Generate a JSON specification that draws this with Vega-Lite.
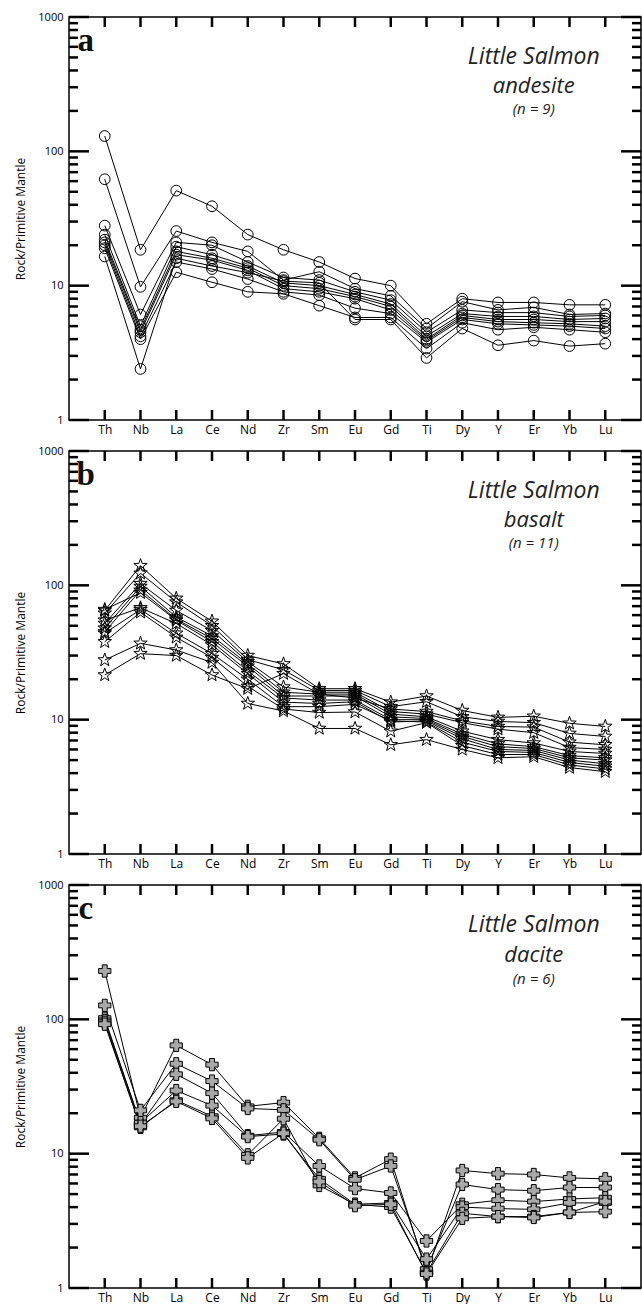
{
"$schema": "https://vega.github.io/schema/vega-lite/v6.json",
"padding": {"left": 14, "top": 10, "right": 2, "bottom": 0},
"spacing": 8,
"config": {"view": {"stroke": "black", "strokeWidth": 1.5}, "font": "Open Sans"},
"datasets": {
"els": [{"el":"Th"},{"el":"Nb"},{"el":"La"},{"el":"Ce"},{"el":"Nd"},{"el":"Zr"},{"el":"Sm"},{"el":"Eu"},{"el":"Gd"},{"el":"Ti"},{"el":"Dy"},{"el":"Y"},{"el":"Er"},{"el":"Yb"},{"el":"Lu"}],
"major": [{"v":1},{"v":10},{"v":100},{"v":1000}],
"minor": [{"v":2},{"v":3},{"v":4},{"v":5},{"v":6},{"v":7},{"v":8},{"v":9},{"v":20},{"v":30},{"v":40},{"v":50},{"v":60},{"v":70},{"v":80},{"v":90},{"v":200},{"v":300},{"v":400},{"v":500},{"v":600},{"v":700},{"v":800},{"v":900}],
"andesite": [
{"s":"A1","el":"Th","v":130},{"s":"A1","el":"Nb","v":18.5},{"s":"A1","el":"La","v":51},{"s":"A1","el":"Ce","v":39},{"s":"A1","el":"Nd","v":24},{"s":"A1","el":"Zr","v":18.5},{"s":"A1","el":"Sm","v":15},{"s":"A1","el":"Eu","v":11.3},{"s":"A1","el":"Gd","v":10},{"s":"A1","el":"Ti","v":5.2},{"s":"A1","el":"Dy","v":8},{"s":"A1","el":"Y","v":7.5},{"s":"A1","el":"Er","v":7.5},{"s":"A1","el":"Yb","v":7.2},{"s":"A1","el":"Lu","v":7.2},
{"s":"A2","el":"Th","v":62},{"s":"A2","el":"Nb","v":9.8},{"s":"A2","el":"La","v":25.5},{"s":"A2","el":"Ce","v":21},{"s":"A2","el":"Nd","v":18},{"s":"A2","el":"Zr","v":11},{"s":"A2","el":"Sm","v":12.7},{"s":"A2","el":"Eu","v":9.5},{"s":"A2","el":"Gd","v":8.4},{"s":"A2","el":"Ti","v":4.8},{"s":"A2","el":"Dy","v":7.6},{"s":"A2","el":"Y","v":6.6},{"s":"A2","el":"Er","v":6.9},{"s":"A2","el":"Yb","v":6.1},{"s":"A2","el":"Lu","v":6.2},
{"s":"A3","el":"Th","v":28},{"s":"A3","el":"Nb","v":6.1},{"s":"A3","el":"La","v":21},{"s":"A3","el":"Ce","v":20},{"s":"A3","el":"Nd","v":15},{"s":"A3","el":"Zr","v":11.5},{"s":"A3","el":"Sm","v":11},{"s":"A3","el":"Eu","v":9},{"s":"A3","el":"Gd","v":7.8},{"s":"A3","el":"Ti","v":4.5},{"s":"A3","el":"Dy","v":6.6},{"s":"A3","el":"Y","v":6.3},{"s":"A3","el":"Er","v":6.3},{"s":"A3","el":"Yb","v":5.9},{"s":"A3","el":"Lu","v":6},
{"s":"A4","el":"Th","v":24},{"s":"A4","el":"Nb","v":5},{"s":"A4","el":"La","v":19.5},{"s":"A4","el":"Ce","v":17},{"s":"A4","el":"Nd","v":14},{"s":"A4","el":"Zr","v":10.5},{"s":"A4","el":"Sm","v":10},{"s":"A4","el":"Eu","v":8.6},{"s":"A4","el":"Gd","v":7.3},{"s":"A4","el":"Ti","v":4.2},{"s":"A4","el":"Dy","v":6.2},{"s":"A4","el":"Y","v":5.9},{"s":"A4","el":"Er","v":5.9},{"s":"A4","el":"Yb","v":5.6},{"s":"A4","el":"Lu","v":5.7},
{"s":"A5","el":"Th","v":22},{"s":"A5","el":"Nb","v":4.7},{"s":"A5","el":"La","v":18},{"s":"A5","el":"Ce","v":16},{"s":"A5","el":"Nd","v":13.5},{"s":"A5","el":"Zr","v":10},{"s":"A5","el":"Sm","v":9.5},{"s":"A5","el":"Eu","v":8.3},{"s":"A5","el":"Gd","v":7},{"s":"A5","el":"Ti","v":4},{"s":"A5","el":"Dy","v":6},{"s":"A5","el":"Y","v":5.6},{"s":"A5","el":"Er","v":5.6},{"s":"A5","el":"Yb","v":5.4},{"s":"A5","el":"Lu","v":5.4},
{"s":"A6","el":"Th","v":21},{"s":"A6","el":"Nb","v":4.5},{"s":"A6","el":"La","v":17},{"s":"A6","el":"Ce","v":15.5},{"s":"A6","el":"Nd","v":13},{"s":"A6","el":"Zr","v":9.5},{"s":"A6","el":"Sm","v":9},{"s":"A6","el":"Eu","v":8},{"s":"A6","el":"Gd","v":6.6},{"s":"A6","el":"Ti","v":3.9},{"s":"A6","el":"Dy","v":5.8},{"s":"A6","el":"Y","v":5.4},{"s":"A6","el":"Er","v":5.3},{"s":"A6","el":"Yb","v":5.2},{"s":"A6","el":"Lu","v":5},
{"s":"A7","el":"Th","v":20},{"s":"A7","el":"Nb","v":4.2},{"s":"A7","el":"La","v":15},{"s":"A7","el":"Ce","v":13.3},{"s":"A7","el":"Nd","v":11.2},{"s":"A7","el":"Zr","v":9},{"s":"A7","el":"Sm","v":8.5},{"s":"A7","el":"Eu","v":6.8},{"s":"A7","el":"Gd","v":6.2},{"s":"A7","el":"Ti","v":3.8},{"s":"A7","el":"Dy","v":5.6},{"s":"A7","el":"Y","v":5.2},{"s":"A7","el":"Er","v":5.1},{"s":"A7","el":"Yb","v":5},{"s":"A7","el":"Lu","v":4.8},
{"s":"A8","el":"Th","v":19},{"s":"A8","el":"Nb","v":4},{"s":"A8","el":"La","v":12.6},{"s":"A8","el":"Ce","v":10.6},{"s":"A8","el":"Nd","v":9},{"s":"A8","el":"Zr","v":8.7},{"s":"A8","el":"Sm","v":7.1},{"s":"A8","el":"Eu","v":5.8},{"s":"A8","el":"Gd","v":5.8},{"s":"A8","el":"Ti","v":3.4},{"s":"A8","el":"Dy","v":5.3},{"s":"A8","el":"Y","v":4.7},{"s":"A8","el":"Er","v":4.9},{"s":"A8","el":"Yb","v":4.7},{"s":"A8","el":"Lu","v":4.5},
{"s":"A9","el":"Th","v":16.5},{"s":"A9","el":"Nb","v":2.4},{"s":"A9","el":"La","v":16},{"s":"A9","el":"Ce","v":14},{"s":"A9","el":"Nd","v":12.5},{"s":"A9","el":"Zr","v":10.8},{"s":"A9","el":"Sm","v":10.5},{"s":"A9","el":"Eu","v":5.6},{"s":"A9","el":"Gd","v":5.6},{"s":"A9","el":"Ti","v":2.9},{"s":"A9","el":"Dy","v":4.8},{"s":"A9","el":"Y","v":3.6},{"s":"A9","el":"Er","v":3.9},{"s":"A9","el":"Yb","v":3.55},{"s":"A9","el":"Lu","v":3.7}
],
"basalt": [
{"s":"B1","el":"Th","v":65},{"s":"B1","el":"Nb","v":140},{"s":"B1","el":"La","v":80},{"s":"B1","el":"Ce","v":54},{"s":"B1","el":"Nd","v":30},{"s":"B1","el":"Zr","v":26},{"s":"B1","el":"Sm","v":17},{"s":"B1","el":"Eu","v":17},{"s":"B1","el":"Gd","v":13.5},{"s":"B1","el":"Ti","v":15},{"s":"B1","el":"Dy","v":11.7},{"s":"B1","el":"Y","v":10.4},{"s":"B1","el":"Er","v":10.6},{"s":"B1","el":"Yb","v":9.4},{"s":"B1","el":"Lu","v":8.9},
{"s":"B2","el":"Th","v":62},{"s":"B2","el":"Nb","v":123},{"s":"B2","el":"La","v":75},{"s":"B2","el":"Ce","v":50},{"s":"B2","el":"Nd","v":28},{"s":"B2","el":"Zr","v":23.5},{"s":"B2","el":"Sm","v":16.5},{"s":"B2","el":"Eu","v":16.5},{"s":"B2","el":"Gd","v":12.5},{"s":"B2","el":"Ti","v":13.6},{"s":"B2","el":"Dy","v":10.5},{"s":"B2","el":"Y","v":9.7},{"s":"B2","el":"Er","v":9.5},{"s":"B2","el":"Yb","v":7.9},{"s":"B2","el":"Lu","v":7.5},
{"s":"B3","el":"Th","v":52},{"s":"B3","el":"Nb","v":103},{"s":"B3","el":"La","v":65},{"s":"B3","el":"Ce","v":46},{"s":"B3","el":"Nd","v":27},{"s":"B3","el":"Zr","v":17.5},{"s":"B3","el":"Sm","v":16},{"s":"B3","el":"Eu","v":16},{"s":"B3","el":"Gd","v":11.5},{"s":"B3","el":"Ti","v":11},{"s":"B3","el":"Dy","v":9.5},{"s":"B3","el":"Y","v":8.5},{"s":"B3","el":"Er","v":8},{"s":"B3","el":"Yb","v":6.2},{"s":"B3","el":"Lu","v":6},
{"s":"B4","el":"Th","v":48},{"s":"B4","el":"Nb","v":98},{"s":"B4","el":"La","v":58},{"s":"B4","el":"Ce","v":42},{"s":"B4","el":"Nd","v":26},{"s":"B4","el":"Zr","v":16},{"s":"B4","el":"Sm","v":15.5},{"s":"B4","el":"Eu","v":15.5},{"s":"B4","el":"Gd","v":11},{"s":"B4","el":"Ti","v":10.5},{"s":"B4","el":"Dy","v":8.2},{"s":"B4","el":"Y","v":7.1},{"s":"B4","el":"Er","v":6.7},{"s":"B4","el":"Yb","v":5.8},{"s":"B4","el":"Lu","v":5.6},
{"s":"B5","el":"Th","v":45},{"s":"B5","el":"Nb","v":92},{"s":"B5","el":"La","v":56},{"s":"B5","el":"Ce","v":40},{"s":"B5","el":"Nd","v":25},{"s":"B5","el":"Zr","v":15},{"s":"B5","el":"Sm","v":15},{"s":"B5","el":"Eu","v":15},{"s":"B5","el":"Gd","v":10.5},{"s":"B5","el":"Ti","v":10.2},{"s":"B5","el":"Dy","v":7.8},{"s":"B5","el":"Y","v":6.6},{"s":"B5","el":"Er","v":6.3},{"s":"B5","el":"Yb","v":5.4},{"s":"B5","el":"Lu","v":5.2},
{"s":"B6","el":"Th","v":66},{"s":"B6","el":"Nb","v":88},{"s":"B6","el":"La","v":55},{"s":"B6","el":"Ce","v":38},{"s":"B6","el":"Nd","v":23},{"s":"B6","el":"Zr","v":14.5},{"s":"B6","el":"Sm","v":14},{"s":"B6","el":"Eu","v":14},{"s":"B6","el":"Gd","v":10},{"s":"B6","el":"Ti","v":10},{"s":"B6","el":"Dy","v":7.5},{"s":"B6","el":"Y","v":6.3},{"s":"B6","el":"Er","v":6.1},{"s":"B6","el":"Yb","v":5.2},{"s":"B6","el":"Lu","v":5},
{"s":"B7","el":"Th","v":55},{"s":"B7","el":"Nb","v":68},{"s":"B7","el":"La","v":52},{"s":"B7","el":"Ce","v":36},{"s":"B7","el":"Nd","v":22},{"s":"B7","el":"Zr","v":13.5},{"s":"B7","el":"Sm","v":13.2},{"s":"B7","el":"Eu","v":13.6},{"s":"B7","el":"Gd","v":9.6},{"s":"B7","el":"Ti","v":9.8},{"s":"B7","el":"Dy","v":7.2},{"s":"B7","el":"Y","v":6},{"s":"B7","el":"Er","v":5.9},{"s":"B7","el":"Yb","v":5},{"s":"B7","el":"Lu","v":4.7},
{"s":"B8","el":"Th","v":44},{"s":"B8","el":"Nb","v":66},{"s":"B8","el":"La","v":44},{"s":"B8","el":"Ce","v":31},{"s":"B8","el":"Nd","v":20},{"s":"B8","el":"Zr","v":12.5},{"s":"B8","el":"Sm","v":12.5},{"s":"B8","el":"Eu","v":13},{"s":"B8","el":"Gd","v":9.8},{"s":"B8","el":"Ti","v":9.6},{"s":"B8","el":"Dy","v":6.8},{"s":"B8","el":"Y","v":5.8},{"s":"B8","el":"Er","v":5.7},{"s":"B8","el":"Yb","v":4.8},{"s":"B8","el":"Lu","v":4.5},
{"s":"B9","el":"Th","v":38},{"s":"B9","el":"Nb","v":63},{"s":"B9","el":"La","v":41},{"s":"B9","el":"Ce","v":29},{"s":"B9","el":"Nd","v":17.7},{"s":"B9","el":"Zr","v":12},{"s":"B9","el":"Sm","v":11.3},{"s":"B9","el":"Eu","v":11.4},{"s":"B9","el":"Gd","v":8.2},{"s":"B9","el":"Ti","v":9.5},{"s":"B9","el":"Dy","v":6.4},{"s":"B9","el":"Y","v":5.5},{"s":"B9","el":"Er","v":5.5},{"s":"B9","el":"Yb","v":4.6},{"s":"B9","el":"Lu","v":4.3},
{"s":"B10","el":"Th","v":27.8},{"s":"B10","el":"Nb","v":37},{"s":"B10","el":"La","v":33},{"s":"B10","el":"Ce","v":26.6},{"s":"B10","el":"Nd","v":13.2},{"s":"B10","el":"Zr","v":11.6},{"s":"B10","el":"Sm","v":8.6},{"s":"B10","el":"Eu","v":8.6},{"s":"B10","el":"Gd","v":6.5},{"s":"B10","el":"Ti","v":7.1},{"s":"B10","el":"Dy","v":6},{"s":"B10","el":"Y","v":5.2},{"s":"B10","el":"Er","v":5.3},{"s":"B10","el":"Yb","v":4.4},{"s":"B10","el":"Lu","v":4.1},
{"s":"B11","el":"Th","v":21.5},{"s":"B11","el":"Nb","v":31},{"s":"B11","el":"La","v":30},{"s":"B11","el":"Ce","v":21.5},{"s":"B11","el":"Nd","v":17},{"s":"B11","el":"Zr","v":22},{"s":"B11","el":"Sm","v":15.5},{"s":"B11","el":"Eu","v":14.5},{"s":"B11","el":"Gd","v":12},{"s":"B11","el":"Ti","v":11.5},{"s":"B11","el":"Dy","v":9.8},{"s":"B11","el":"Y","v":8.9},{"s":"B11","el":"Er","v":8.8},{"s":"B11","el":"Yb","v":6.8},{"s":"B11","el":"Lu","v":6.5}
],
"dacite": [
{"s":"C1","el":"Th","v":229},{"s":"C1","el":"Nb","v":18.5},{"s":"C1","el":"La","v":64},{"s":"C1","el":"Ce","v":46},{"s":"C1","el":"Nd","v":22.5},{"s":"C1","el":"Zr","v":24},{"s":"C1","el":"Sm","v":13},{"s":"C1","el":"Eu","v":6.6},{"s":"C1","el":"Gd","v":9.1},{"s":"C1","el":"Ti","v":1.3},{"s":"C1","el":"Dy","v":7.5},{"s":"C1","el":"Y","v":7.1},{"s":"C1","el":"Er","v":7},{"s":"C1","el":"Yb","v":6.6},{"s":"C1","el":"Lu","v":6.5},
{"s":"C2","el":"Th","v":127},{"s":"C2","el":"Nb","v":21},{"s":"C2","el":"La","v":46.7},{"s":"C2","el":"Ce","v":34.7},{"s":"C2","el":"Nd","v":21.7},{"s":"C2","el":"Zr","v":21.2},{"s":"C2","el":"Sm","v":12.7},{"s":"C2","el":"Eu","v":6.4},{"s":"C2","el":"Gd","v":8.1},{"s":"C2","el":"Ti","v":1.38},{"s":"C2","el":"Dy","v":5.9},{"s":"C2","el":"Y","v":5.4},{"s":"C2","el":"Er","v":5.3},{"s":"C2","el":"Yb","v":5.6},{"s":"C2","el":"Lu","v":5.6},
{"s":"C3","el":"Th","v":102},{"s":"C3","el":"Nb","v":16.5},{"s":"C3","el":"La","v":39},{"s":"C3","el":"Ce","v":28.2},{"s":"C3","el":"Nd","v":13.6},{"s":"C3","el":"Zr","v":14.5},{"s":"C3","el":"Sm","v":8.1},{"s":"C3","el":"Eu","v":5.5},{"s":"C3","el":"Gd","v":5.1},{"s":"C3","el":"Ti","v":2.24},{"s":"C3","el":"Dy","v":4.2},{"s":"C3","el":"Y","v":4.5},{"s":"C3","el":"Er","v":4.4},{"s":"C3","el":"Yb","v":4.6},{"s":"C3","el":"Lu","v":4.7},
{"s":"C4","el":"Th","v":98},{"s":"C4","el":"Nb","v":17},{"s":"C4","el":"La","v":29.5},{"s":"C4","el":"Ce","v":22.8},{"s":"C4","el":"Nd","v":13.4},{"s":"C4","el":"Zr","v":14},{"s":"C4","el":"Sm","v":6.5},{"s":"C4","el":"Eu","v":4.2},{"s":"C4","el":"Gd","v":4.3},{"s":"C4","el":"Ti","v":1.64},{"s":"C4","el":"Dy","v":4},{"s":"C4","el":"Y","v":3.9},{"s":"C4","el":"Er","v":3.85},{"s":"C4","el":"Yb","v":4.3},{"s":"C4","el":"Lu","v":4.3},
{"s":"C5","el":"Th","v":95},{"s":"C5","el":"Nb","v":15.7},{"s":"C5","el":"La","v":25},{"s":"C5","el":"Ce","v":19},{"s":"C5","el":"Nd","v":9.8},{"s":"C5","el":"Zr","v":18.2},{"s":"C5","el":"Sm","v":5.8},{"s":"C5","el":"Eu","v":4.2},{"s":"C5","el":"Gd","v":4},{"s":"C5","el":"Ti","v":1.3},{"s":"C5","el":"Dy","v":3.6},{"s":"C5","el":"Y","v":3.4},{"s":"C5","el":"Er","v":3.4},{"s":"C5","el":"Yb","v":3.65},{"s":"C5","el":"Lu","v":4.4},
{"s":"C6","el":"Th","v":92},{"s":"C6","el":"Nb","v":16},{"s":"C6","el":"La","v":24.5},{"s":"C6","el":"Ce","v":18.3},{"s":"C6","el":"Nd","v":9.3},{"s":"C6","el":"Zr","v":14.2},{"s":"C6","el":"Sm","v":6.2},{"s":"C6","el":"Eu","v":4.1},{"s":"C6","el":"Gd","v":4.2},{"s":"C6","el":"Ti","v":1.27},{"s":"C6","el":"Dy","v":3.3},{"s":"C6","el":"Y","v":3.4},{"s":"C6","el":"Er","v":3.35},{"s":"C6","el":"Yb","v":3.65},{"s":"C6","el":"Lu","v":3.7}
]
},
"vconcat": [
{
"width": 572, "height": 403,
"resolve": {"scale": {"x": "independent"}, "axis": {"x": "independent", "y": "independent"}},
"layer": [
{"data": {"name": "andesite"}, "mark": {"type": "line", "color": "black", "strokeWidth": 1},
 "encoding": {
  "x": {"field": "el", "type": "nominal", "sort": ["Th","Nb","La","Ce","Nd","Zr","Sm","Eu","Gd","Ti","Dy","Y","Er","Yb","Lu"], "scale": {"type": "point", "domain": ["Th","Nb","La","Ce","Nd","Zr","Sm","Eu","Gd","Ti","Dy","Y","Er","Yb","Lu"], "padding": 1},
   "axis": {"orient": "bottom", "title": null, "labelAngle": 0, "labelFontSize": 12, "labelColor": "black", "labelPadding": 4, "ticks": false, "domain": false, "grid": false}},
  "y": {"field": "v", "type": "quantitative", "scale": {"type": "log", "domain": [1, 1000], "nice": false},
   "axis": {"orient": "left", "title": "Rock/Primitive Mantle", "titleFontSize": 12, "titleFontWeight": "normal", "titleColor": "black", "titlePadding": 10, "values": [1,10,100,1000], "format": "d", "labelFontSize": 11, "labelColor": "black", "labelPadding": 6, "labelFlush": false, "labelOverlap": false, "ticks": false, "domain": false, "grid": false}},
  "detail": {"field": "s"}
 }},
{"data": {"name": "andesite"}, "mark": {"type": "point", "shape": "circle", "filled": false, "stroke": "black", "strokeWidth": 1, "size": 115, "opacity": 1},
 "encoding": {
  "x": {"field": "el", "type": "nominal", "scale": {"type": "point", "domain": ["Th","Nb","La","Ce","Nd","Zr","Sm","Eu","Gd","Ti","Dy","Y","Er","Yb","Lu"], "padding": 1}, "axis": null},
  "y": {"field": "v", "type": "quantitative", "scale": {"type": "log", "domain": [1, 1000], "nice": false}, "axis": null}
 }},
{"data": {"name": "els"}, "mark": {"type": "tick", "orient": "vertical", "size": 10, "thickness": 2.5, "yOffset": 5, "color": "black", "opacity": 1},
 "encoding": {"x": {"field": "el", "type": "nominal", "scale": {"type": "point", "domain": ["Th","Nb","La","Ce","Nd","Zr","Sm","Eu","Gd","Ti","Dy","Y","Er","Yb","Lu"], "padding": 1}, "axis": null}, "y": {"datum": 1000, "type": "quantitative", "axis": null}}},
{"data": {"name": "els"}, "mark": {"type": "tick", "orient": "vertical", "size": 10, "thickness": 2.5, "yOffset": -5, "color": "black", "opacity": 1},
 "encoding": {"x": {"field": "el", "type": "nominal", "scale": {"type": "point", "domain": ["Th","Nb","La","Ce","Nd","Zr","Sm","Eu","Gd","Ti","Dy","Y","Er","Yb","Lu"], "padding": 1}, "axis": null}, "y": {"datum": 1, "type": "quantitative", "axis": null}}},
{"data": {"name": "major"}, "mark": {"type": "tick", "orient": "horizontal", "size": 20, "thickness": 2.5, "xOffset": 10, "color": "black", "opacity": 1},
 "encoding": {"x": {"datum": 0, "type": "quantitative", "scale": {"domain": [0, 1]}, "axis": null}, "y": {"field": "v", "type": "quantitative", "axis": null}}},
{"data": {"name": "minor"}, "mark": {"type": "tick", "orient": "horizontal", "size": 9, "thickness": 2.5, "xOffset": 4.5, "color": "black", "opacity": 1},
 "encoding": {"x": {"datum": 0, "type": "quantitative", "scale": {"domain": [0, 1]}, "axis": null}, "y": {"field": "v", "type": "quantitative", "axis": null}}},
{"data": {"name": "major"}, "mark": {"type": "tick", "orient": "horizontal", "size": 20, "thickness": 2.5, "xOffset": -10, "color": "black", "opacity": 1},
 "encoding": {"x": {"datum": 1, "type": "quantitative", "scale": {"domain": [0, 1]}, "axis": null}, "y": {"field": "v", "type": "quantitative", "axis": null}}},
{"data": {"name": "minor"}, "mark": {"type": "tick", "orient": "horizontal", "size": 9, "thickness": 2.5, "xOffset": -4.5, "color": "black", "opacity": 1},
 "encoding": {"x": {"datum": 1, "type": "quantitative", "scale": {"domain": [0, 1]}, "axis": null}, "y": {"field": "v", "type": "quantitative", "axis": null}}},
{"data": {"values": [{"t": "a"}]}, "mark": {"type": "text", "font": "Liberation Serif", "fontWeight": "bold", "fontSize": 33, "align": "center", "baseline": "alphabetic", "dx": -19, "color": "#111"},
 "encoding": {"x": {"datum": "Th", "scale": {"type": "point", "domain": ["Th","Nb","La","Ce","Nd","Zr","Sm","Eu","Gd","Ti","Dy","Y","Er","Yb","Lu"], "padding": 1}, "axis": null}, "y": {"datum": 560, "type": "quantitative", "axis": null}, "text": {"field": "t"}}},
{"data": {"values": [{"t": "Little Salmon"}]}, "mark": {"type": "text", "fontStyle": "italic", "fontSize": 23, "align": "center", "baseline": "middle", "color": "#222"},
 "encoding": {"x": {"datum": "Er", "scale": {"type": "point", "domain": ["Th","Nb","La","Ce","Nd","Zr","Sm","Eu","Gd","Ti","Dy","Y","Er","Yb","Lu"], "padding": 1}, "axis": null}, "y": {"datum": 503, "type": "quantitative", "axis": null}, "text": {"field": "t"}}},
{"data": {"values": [{"t": "andesite"}]}, "mark": {"type": "text", "fontStyle": "italic", "fontSize": 22, "align": "center", "baseline": "middle", "color": "#222"},
 "encoding": {"x": {"datum": "Er", "scale": {"type": "point", "domain": ["Th","Nb","La","Ce","Nd","Zr","Sm","Eu","Gd","Ti","Dy","Y","Er","Yb","Lu"], "padding": 1}, "axis": null}, "y": {"datum": 306, "type": "quantitative", "axis": null}, "text": {"field": "t"}}},
{"data": {"values": [{"t": "(n = 9)"}]}, "mark": {"type": "text", "fontStyle": "italic", "fontSize": 15, "align": "center", "baseline": "middle", "color": "#222"},
 "encoding": {"x": {"datum": "Er", "scale": {"type": "point", "domain": ["Th","Nb","La","Ce","Nd","Zr","Sm","Eu","Gd","Ti","Dy","Y","Er","Yb","Lu"], "padding": 1}, "axis": null}, "y": {"datum": 207, "type": "quantitative", "axis": null}, "text": {"field": "t"}}}
]
},
{
"width": 572, "height": 403,
"resolve": {"scale": {"x": "independent"}, "axis": {"x": "independent", "y": "independent"}},
"layer": [
{"data": {"name": "basalt"}, "mark": {"type": "line", "color": "black", "strokeWidth": 1},
 "encoding": {
  "x": {"field": "el", "type": "nominal", "sort": ["Th","Nb","La","Ce","Nd","Zr","Sm","Eu","Gd","Ti","Dy","Y","Er","Yb","Lu"], "scale": {"type": "point", "domain": ["Th","Nb","La","Ce","Nd","Zr","Sm","Eu","Gd","Ti","Dy","Y","Er","Yb","Lu"], "padding": 1},
   "axis": {"orient": "bottom", "title": null, "labelAngle": 0, "labelFontSize": 12, "labelColor": "black", "labelPadding": 4, "ticks": false, "domain": false, "grid": false}},
  "y": {"field": "v", "type": "quantitative", "scale": {"type": "log", "domain": [1, 1000], "nice": false},
   "axis": {"orient": "left", "title": "Rock/Primitive Mantle", "titleFontSize": 12, "titleFontWeight": "normal", "titleColor": "black", "titlePadding": 10, "values": [1,10,100,1000], "format": "d", "labelFontSize": 11, "labelColor": "black", "labelPadding": 6, "labelFlush": false, "labelOverlap": false, "ticks": false, "domain": false, "grid": false}},
  "detail": {"field": "s"}
 }},
{"data": {"name": "basalt"}, "mark": {"type": "point", "shape": "M0,-1L0.235,-0.324L0.951,-0.309L0.38,0.124L0.588,0.809L0,0.4L-0.588,0.809L-0.38,0.124L-0.951,-0.309L-0.235,-0.324Z", "filled": false, "stroke": "black", "strokeWidth": 1, "size": 200, "opacity": 1},
 "encoding": {
  "x": {"field": "el", "type": "nominal", "scale": {"type": "point", "domain": ["Th","Nb","La","Ce","Nd","Zr","Sm","Eu","Gd","Ti","Dy","Y","Er","Yb","Lu"], "padding": 1}, "axis": null},
  "y": {"field": "v", "type": "quantitative", "scale": {"type": "log", "domain": [1, 1000], "nice": false}, "axis": null}
 }},
{"data": {"name": "els"}, "mark": {"type": "tick", "orient": "vertical", "size": 10, "thickness": 2.5, "yOffset": 5, "color": "black", "opacity": 1},
 "encoding": {"x": {"field": "el", "type": "nominal", "scale": {"type": "point", "domain": ["Th","Nb","La","Ce","Nd","Zr","Sm","Eu","Gd","Ti","Dy","Y","Er","Yb","Lu"], "padding": 1}, "axis": null}, "y": {"datum": 1000, "type": "quantitative", "axis": null}}},
{"data": {"name": "els"}, "mark": {"type": "tick", "orient": "vertical", "size": 10, "thickness": 2.5, "yOffset": -5, "color": "black", "opacity": 1},
 "encoding": {"x": {"field": "el", "type": "nominal", "scale": {"type": "point", "domain": ["Th","Nb","La","Ce","Nd","Zr","Sm","Eu","Gd","Ti","Dy","Y","Er","Yb","Lu"], "padding": 1}, "axis": null}, "y": {"datum": 1, "type": "quantitative", "axis": null}}},
{"data": {"name": "major"}, "mark": {"type": "tick", "orient": "horizontal", "size": 20, "thickness": 2.5, "xOffset": 10, "color": "black", "opacity": 1},
 "encoding": {"x": {"datum": 0, "type": "quantitative", "scale": {"domain": [0, 1]}, "axis": null}, "y": {"field": "v", "type": "quantitative", "axis": null}}},
{"data": {"name": "minor"}, "mark": {"type": "tick", "orient": "horizontal", "size": 9, "thickness": 2.5, "xOffset": 4.5, "color": "black", "opacity": 1},
 "encoding": {"x": {"datum": 0, "type": "quantitative", "scale": {"domain": [0, 1]}, "axis": null}, "y": {"field": "v", "type": "quantitative", "axis": null}}},
{"data": {"name": "major"}, "mark": {"type": "tick", "orient": "horizontal", "size": 20, "thickness": 2.5, "xOffset": -10, "color": "black", "opacity": 1},
 "encoding": {"x": {"datum": 1, "type": "quantitative", "scale": {"domain": [0, 1]}, "axis": null}, "y": {"field": "v", "type": "quantitative", "axis": null}}},
{"data": {"name": "minor"}, "mark": {"type": "tick", "orient": "horizontal", "size": 9, "thickness": 2.5, "xOffset": -4.5, "color": "black", "opacity": 1},
 "encoding": {"x": {"datum": 1, "type": "quantitative", "scale": {"domain": [0, 1]}, "axis": null}, "y": {"field": "v", "type": "quantitative", "axis": null}}},
{"data": {"values": [{"t": "b"}]}, "mark": {"type": "text", "font": "Liberation Serif", "fontWeight": "bold", "fontSize": 33, "align": "center", "baseline": "alphabetic", "dx": -19, "color": "#111"},
 "encoding": {"x": {"datum": "Th", "scale": {"type": "point", "domain": ["Th","Nb","La","Ce","Nd","Zr","Sm","Eu","Gd","Ti","Dy","Y","Er","Yb","Lu"], "padding": 1}, "axis": null}, "y": {"datum": 560, "type": "quantitative", "axis": null}, "text": {"field": "t"}}},
{"data": {"values": [{"t": "Little Salmon"}]}, "mark": {"type": "text", "fontStyle": "italic", "fontSize": 23, "align": "center", "baseline": "middle", "color": "#222"},
 "encoding": {"x": {"datum": "Er", "scale": {"type": "point", "domain": ["Th","Nb","La","Ce","Nd","Zr","Sm","Eu","Gd","Ti","Dy","Y","Er","Yb","Lu"], "padding": 1}, "axis": null}, "y": {"datum": 503, "type": "quantitative", "axis": null}, "text": {"field": "t"}}},
{"data": {"values": [{"t": "basalt"}]}, "mark": {"type": "text", "fontStyle": "italic", "fontSize": 22, "align": "center", "baseline": "middle", "color": "#222"},
 "encoding": {"x": {"datum": "Er", "scale": {"type": "point", "domain": ["Th","Nb","La","Ce","Nd","Zr","Sm","Eu","Gd","Ti","Dy","Y","Er","Yb","Lu"], "padding": 1}, "axis": null}, "y": {"datum": 306, "type": "quantitative", "axis": null}, "text": {"field": "t"}}},
{"data": {"values": [{"t": "(n = 11)"}]}, "mark": {"type": "text", "fontStyle": "italic", "fontSize": 15, "align": "center", "baseline": "middle", "color": "#222"},
 "encoding": {"x": {"datum": "Er", "scale": {"type": "point", "domain": ["Th","Nb","La","Ce","Nd","Zr","Sm","Eu","Gd","Ti","Dy","Y","Er","Yb","Lu"], "padding": 1}, "axis": null}, "y": {"datum": 207, "type": "quantitative", "axis": null}, "text": {"field": "t"}}}
]
},
{
"width": 572, "height": 403,
"resolve": {"scale": {"x": "independent"}, "axis": {"x": "independent", "y": "independent"}},
"layer": [
{"data": {"name": "dacite"}, "mark": {"type": "line", "color": "black", "strokeWidth": 1},
 "encoding": {
  "x": {"field": "el", "type": "nominal", "sort": ["Th","Nb","La","Ce","Nd","Zr","Sm","Eu","Gd","Ti","Dy","Y","Er","Yb","Lu"], "scale": {"type": "point", "domain": ["Th","Nb","La","Ce","Nd","Zr","Sm","Eu","Gd","Ti","Dy","Y","Er","Yb","Lu"], "padding": 1},
   "axis": {"orient": "bottom", "title": null, "labelAngle": 0, "labelFontSize": 12, "labelColor": "black", "labelPadding": 4, "ticks": false, "domain": false, "grid": false}},
  "y": {"field": "v", "type": "quantitative", "scale": {"type": "log", "domain": [1, 1000], "nice": false},
   "axis": {"orient": "left", "title": "Rock/Primitive Mantle", "titleFontSize": 12, "titleFontWeight": "normal", "titleColor": "black", "titlePadding": 10, "values": [1,10,100,1000], "format": "d", "labelFontSize": 11, "labelColor": "black", "labelPadding": 6, "labelFlush": false, "labelOverlap": false, "ticks": false, "domain": false, "grid": false}},
  "detail": {"field": "s"}
 }},
{"data": {"name": "dacite"}, "mark": {"type": "point", "shape": "cross", "filled": true, "fill": "#a8a8a8", "stroke": "black", "strokeWidth": 1, "size": 150, "opacity": 1},
 "encoding": {
  "x": {"field": "el", "type": "nominal", "scale": {"type": "point", "domain": ["Th","Nb","La","Ce","Nd","Zr","Sm","Eu","Gd","Ti","Dy","Y","Er","Yb","Lu"], "padding": 1}, "axis": null},
  "y": {"field": "v", "type": "quantitative", "scale": {"type": "log", "domain": [1, 1000], "nice": false}, "axis": null}
 }},
{"data": {"name": "els"}, "mark": {"type": "tick", "orient": "vertical", "size": 10, "thickness": 2.5, "yOffset": 5, "color": "black", "opacity": 1},
 "encoding": {"x": {"field": "el", "type": "nominal", "scale": {"type": "point", "domain": ["Th","Nb","La","Ce","Nd","Zr","Sm","Eu","Gd","Ti","Dy","Y","Er","Yb","Lu"], "padding": 1}, "axis": null}, "y": {"datum": 1000, "type": "quantitative", "axis": null}}},
{"data": {"name": "els"}, "mark": {"type": "tick", "orient": "vertical", "size": 10, "thickness": 2.5, "yOffset": -5, "color": "black", "opacity": 1},
 "encoding": {"x": {"field": "el", "type": "nominal", "scale": {"type": "point", "domain": ["Th","Nb","La","Ce","Nd","Zr","Sm","Eu","Gd","Ti","Dy","Y","Er","Yb","Lu"], "padding": 1}, "axis": null}, "y": {"datum": 1, "type": "quantitative", "axis": null}}},
{"data": {"name": "major"}, "mark": {"type": "tick", "orient": "horizontal", "size": 20, "thickness": 2.5, "xOffset": 10, "color": "black", "opacity": 1},
 "encoding": {"x": {"datum": 0, "type": "quantitative", "scale": {"domain": [0, 1]}, "axis": null}, "y": {"field": "v", "type": "quantitative", "axis": null}}},
{"data": {"name": "minor"}, "mark": {"type": "tick", "orient": "horizontal", "size": 9, "thickness": 2.5, "xOffset": 4.5, "color": "black", "opacity": 1},
 "encoding": {"x": {"datum": 0, "type": "quantitative", "scale": {"domain": [0, 1]}, "axis": null}, "y": {"field": "v", "type": "quantitative", "axis": null}}},
{"data": {"name": "major"}, "mark": {"type": "tick", "orient": "horizontal", "size": 20, "thickness": 2.5, "xOffset": -10, "color": "black", "opacity": 1},
 "encoding": {"x": {"datum": 1, "type": "quantitative", "scale": {"domain": [0, 1]}, "axis": null}, "y": {"field": "v", "type": "quantitative", "axis": null}}},
{"data": {"name": "minor"}, "mark": {"type": "tick", "orient": "horizontal", "size": 9, "thickness": 2.5, "xOffset": -4.5, "color": "black", "opacity": 1},
 "encoding": {"x": {"datum": 1, "type": "quantitative", "scale": {"domain": [0, 1]}, "axis": null}, "y": {"field": "v", "type": "quantitative", "axis": null}}},
{"data": {"values": [{"t": "c"}]}, "mark": {"type": "text", "font": "Liberation Serif", "fontWeight": "bold", "fontSize": 33, "align": "center", "baseline": "alphabetic", "dx": -19, "color": "#111"},
 "encoding": {"x": {"datum": "Th", "scale": {"type": "point", "domain": ["Th","Nb","La","Ce","Nd","Zr","Sm","Eu","Gd","Ti","Dy","Y","Er","Yb","Lu"], "padding": 1}, "axis": null}, "y": {"datum": 560, "type": "quantitative", "axis": null}, "text": {"field": "t"}}},
{"data": {"values": [{"t": "Little Salmon"}]}, "mark": {"type": "text", "fontStyle": "italic", "fontSize": 23, "align": "center", "baseline": "middle", "color": "#222"},
 "encoding": {"x": {"datum": "Er", "scale": {"type": "point", "domain": ["Th","Nb","La","Ce","Nd","Zr","Sm","Eu","Gd","Ti","Dy","Y","Er","Yb","Lu"], "padding": 1}, "axis": null}, "y": {"datum": 503, "type": "quantitative", "axis": null}, "text": {"field": "t"}}},
{"data": {"values": [{"t": "dacite"}]}, "mark": {"type": "text", "fontStyle": "italic", "fontSize": 22, "align": "center", "baseline": "middle", "color": "#222"},
 "encoding": {"x": {"datum": "Er", "scale": {"type": "point", "domain": ["Th","Nb","La","Ce","Nd","Zr","Sm","Eu","Gd","Ti","Dy","Y","Er","Yb","Lu"], "padding": 1}, "axis": null}, "y": {"datum": 300, "type": "quantitative", "axis": null}, "text": {"field": "t"}}},
{"data": {"values": [{"t": "(n = 6)"}]}, "mark": {"type": "text", "fontStyle": "italic", "fontSize": 15, "align": "center", "baseline": "middle", "color": "#222"},
 "encoding": {"x": {"datum": "Er", "scale": {"type": "point", "domain": ["Th","Nb","La","Ce","Nd","Zr","Sm","Eu","Gd","Ti","Dy","Y","Er","Yb","Lu"], "padding": 1}, "axis": null}, "y": {"datum": 200, "type": "quantitative", "axis": null}, "text": {"field": "t"}}}
]
}
]
}
